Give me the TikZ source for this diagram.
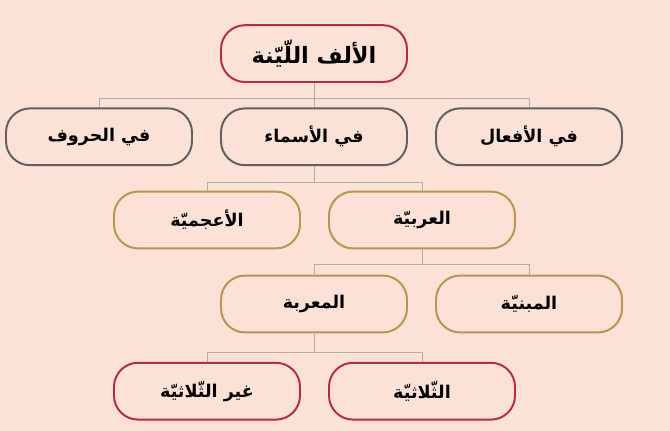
\documentclass[tikz,border=0pt]{standalone}
\usepackage{fontspec}
\newfontfamily\arabicfont[Script=Arabic]{DejaVu Sans}
\TeXXeTstate=1
\usepackage{tikz}
\usetikzlibrary{positioning}
\definecolor{bgpeach}{HTML}{FCE1D6}
\definecolor{bred}{HTML}{B0303F}
\definecolor{bgray}{HTML}{5F6062}
\definecolor{bgold}{HTML}{B8964F}
\definecolor{lgray}{HTML}{B4ABA6}
\tikzset{
    mynode/.style = {rectangle, rounded corners=0.6cm, line width=1.4pt, align=center, fill=bgpeach,
                     minimum width=4.65cm, minimum height=1.42cm, font=\arabicfont\bfseries\fontsize{12.5}{15}\selectfont},
    mynoder/.style = {mynode, draw=bred},
    mynodeg/.style = {mynode, draw=bgray},
    mynodey/.style = {mynode, draw=bgold},
    edgel/.style = {draw=lgray, line width=0.6pt}
}
\begin{document}
\begin{tikzpicture}[scale=1.00]
\useasboundingbox (0,0) rectangle (16.75,-10.775);
\fill[bgpeach] (0,0) rectangle (16.75,-10.775);
%
\node[mynoder, font=\arabicfont\bfseries\fontsize{16}{19}\selectfont] at (7.85,-1.34) (root) {\beginR الألف اللّيّنة\endR};
\node[mynodeg] at (2.475,-3.42) (harf) {\beginR في الحروف\endR};
\node[mynodeg] at (7.85,-3.42) (asma) {\beginR في الأسماء\endR};
\node[mynodeg] at (13.225,-3.42) (fil) {\beginR في الأفعال\endR};
\node[mynodey] at (5.175,-5.5) (ajam) {\beginR الأعجميّة\endR};
\node[mynodey] at (10.55,-5.5) (arab) {\beginR العربيّة\endR};
\node[mynodey] at (7.85,-7.6) (murab) {\beginR المعربة\endR};
\node[mynodey] at (13.225,-7.6) (mabni) {\beginR المبنيّة\endR};
\node[mynoder] at (5.175,-9.78) (ghayr) {\beginR غير الثّلاثيّة\endR};
\node[mynoder] at (10.55,-9.78) (thul) {\beginR الثّلاثيّة\endR};
%
\coordinate (j1) at (7.85,-2.45);
\coordinate (j2) at (7.85,-4.55);
\coordinate (j3) at (10.55,-6.62);
\coordinate (j4) at (7.85,-8.8);
%
\draw[edgel] (root) -- (j1);
\draw[edgel] (j1) -| (harf);
\draw[edgel] (j1) -- (asma);
\draw[edgel] (j1) -| (fil);
\draw[edgel] (asma) -- (j2);
\draw[edgel] (j2) -| (ajam);
\draw[edgel] (j2) -| (arab);
\draw[edgel] (arab) -- (j3);
\draw[edgel] (j3) -| (murab);
\draw[edgel] (j3) -| (mabni);
\draw[edgel] (murab) -- (j4);
\draw[edgel] (j4) -| (ghayr);
\draw[edgel] (j4) -| (thul);
\end{tikzpicture}
\end{document}
